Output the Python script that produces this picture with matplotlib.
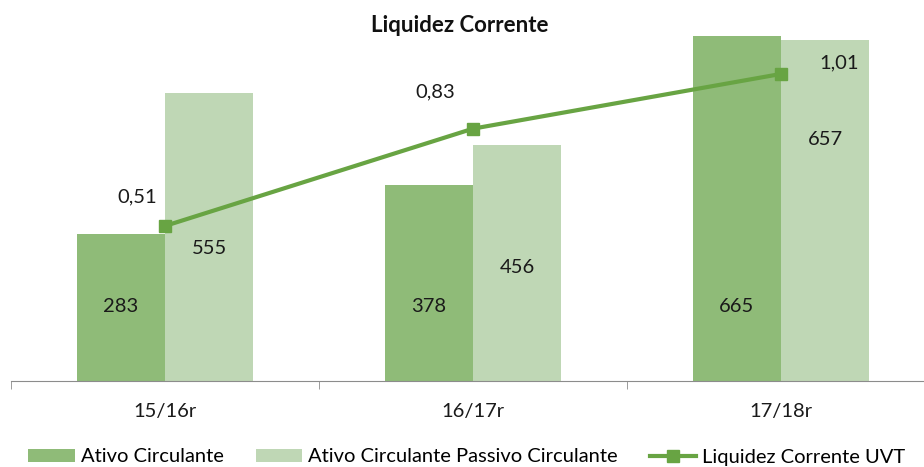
import numpy as np
import matplotlib.pyplot as plt

# dados
anos = ["15/16r", "16/17r", "17/18r"]
ativo = [283, 378, 665]
passivo = [555, 456, 657]
liquidez = [0.51, 0.83, 1.01]

# altura dos rótulos das barras claras (posição, unidades do eixo)
passivo_label_y = [255, 218, 465]

cor_ativo = "#8fbb78"
cor_passivo = "#bfd7b5"
cor_linha = "#68a443"

plt.rcParams['font.family'] = ['Lato', 'DejaVu Sans']

fig = plt.figure(figsize=(9.24, 4.67), dpi=100)
ax = fig.add_axes([11/924, 1 - 381/467, 924/924, 363/467])

x = np.arange(len(anos))
w = 0.286
ax.bar(x - w/2, ativo, w, color=cor_ativo, label="Ativo Circulante")
ax.bar(x + w/2, passivo, w, color=cor_passivo,
       label="Ativo Circulante Passivo Circulante")
ax.set_ylim(0, 700)
ax.set_xlim(-0.5, 2.5)

for i, v in enumerate(ativo):
    ax.text(x[i] - w/2, 143, str(v), ha='center', va='center', fontsize=14.5,
            color='#1a1a1a')
for i, v in enumerate(passivo):
    ax.text(x[i] + w/2, passivo_label_y[i], str(v), ha='center', va='center',
            fontsize=14.5, color='#1a1a1a')

# eixo secundário para o índice
ax2 = ax.twinx()
ax2.plot(x, liquidez, color=cor_linha, lw=3, marker='s', markersize=8,
         label="Liquidez Corrente UVT")
ax2.set_ylim(0, 1.194)
ax2.axis('off')

offsets = [(-28, 29), (-38, 37), (58, 11)]
for i, v in enumerate(liquidez):
    ax2.annotate(f"{v:.2f}".replace('.', ','), (x[i], v),
                 xytext=offsets[i], textcoords='offset pixels',
                 ha='center', va='center', fontsize=14.5, color='#1a1a1a')

for s in ['top', 'right', 'left']:
    ax.spines[s].set_visible(False)
ax.spines['bottom'].set_color('#8c8c8c')
ax.set_yticks([])
ax.set_xticks(x)
ax.set_xticklabels(anos, fontsize=14.5, color='#1a1a1a')
ax.tick_params(axis='x', which='major', length=0, pad=16)
ax.set_xticks([-0.5, 0.5, 1.5, 2.5], minor=True)
ax.tick_params(axis='x', which='minor', length=6, color='#8c8c8c')

fig.text(460/924, 1 - 25/467, "Liquidez Corrente", ha='center', va='center',
         fontsize=16, fontweight='bold', color='#111111')

h1, l1 = ax.get_legend_handles_labels()
h2, l2 = ax2.get_legend_handles_labels()
fig.legend(h1 + h2, l1 + l2, loc='center', ncol=3, numpoints=1,
           bbox_to_anchor=(467/924, 1 - 457/467), frameon=False,
           fontsize=14.5, handlelength=2.3, handleheight=0.6,
           handletextpad=0.3, columnspacing=1.6, borderpad=0)

fig.savefig("out.png", dpi=100)
